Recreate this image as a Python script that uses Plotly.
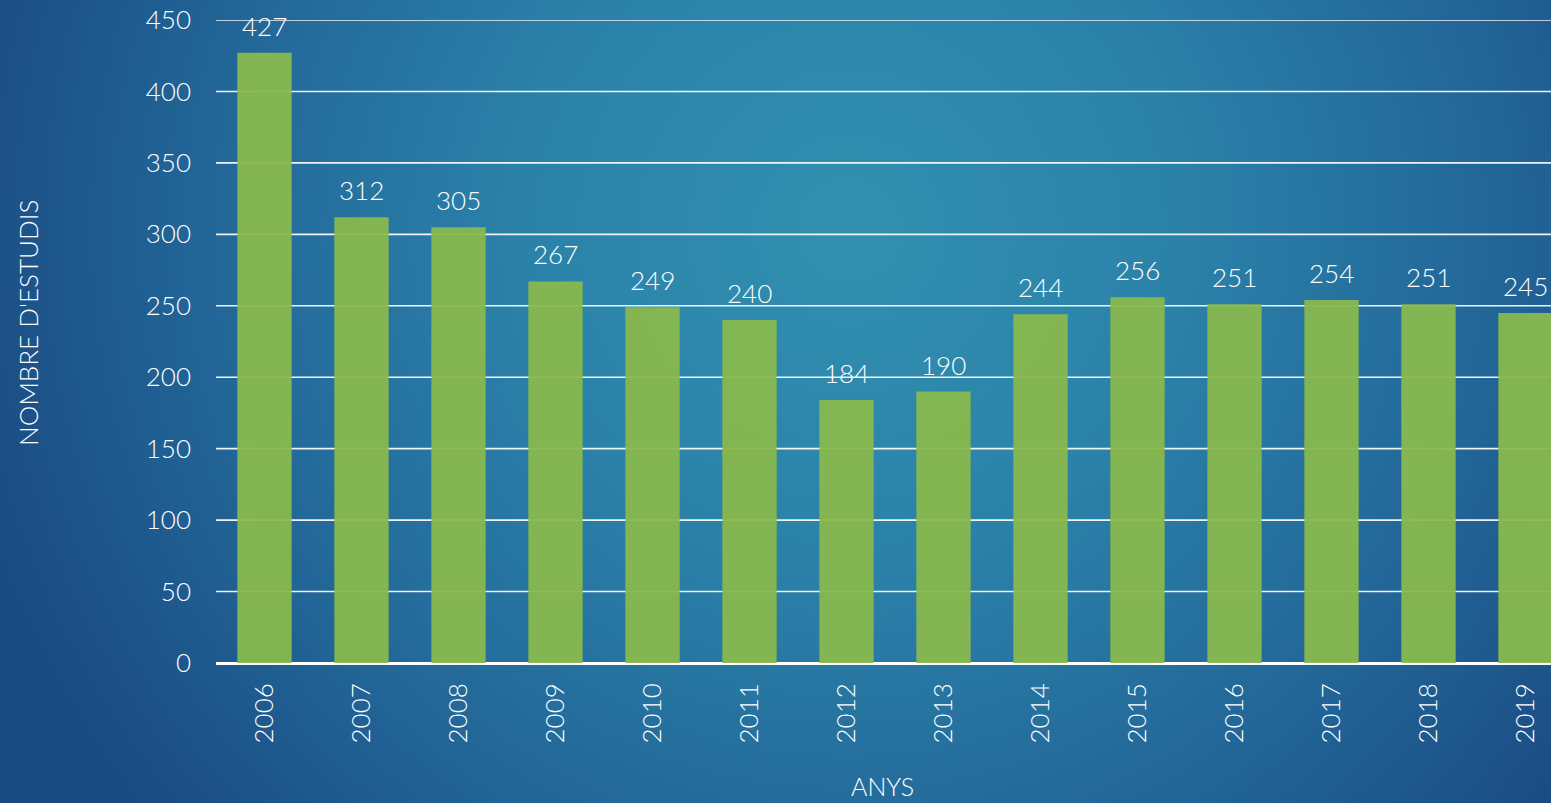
import base64
import plotly.graph_objects as go

years = ["2006", "2007", "2008", "2009", "2010", "2011", "2012",
         "2013", "2014", "2015", "2016", "2017", "2018", "2019"]
studies = [427, 312, 305, 267, 249, 240, 184, 190, 244, 256, 251, 254, 251, 245]
y_ticks = [0, 50, 100, 150, 200, 250, 300, 350, 400, 450]

W, H = 1551, 803
ML, MR, MT, MB = 216, 0, 20, 140
PW, PH = W - ML - MR, H - MT - MB

FONT = "Lato, 'Open Sans', sans-serif"
WEIGHT = 300

svg = f'''<svg xmlns="http://www.w3.org/2000/svg" width="{W}" height="{H}" viewBox="0 0 {W} {H}" preserveAspectRatio="none">
<defs><radialGradient id="g" gradientUnits="userSpaceOnUse" cx="850" cy="230" r="920">
<stop offset="0" stop-color="#3190b0"/>
<stop offset="0.35" stop-color="#2b82a9"/>
<stop offset="0.7" stop-color="#226698"/>
<stop offset="1" stop-color="#1a4a82"/>
</radialGradient></defs>
<rect x="0" y="0" width="{W}" height="{H}" fill="url(#g)"/>
</svg>'''
bg_uri = "data:image/svg+xml;base64," + base64.b64encode(svg.encode()).decode()

xi = list(range(len(years)))

fig = go.Figure()
fig.add_trace(go.Bar(
    x=xi, y=studies,
    marker=dict(color="rgb(137,186,78)", line=dict(width=0)),
    opacity=0.94,
    hovertext=years, hoverinfo="text+y",
))

annotations = []
for i, v in zip(xi, studies):
    annotations.append(dict(
        x=i, y=v, xref="x", yref="y", text=str(v), showarrow=False,
        yanchor="bottom", xanchor="center", yshift=9,
        font=dict(family=FONT, size=26, color="white", weight=WEIGHT),
    ))
annotations.append(dict(
    x=(28 - ML) / PW, y=(MT + PH - 323) / PH, xref="paper", yref="paper",
    text="NOMBRE D'ESTUDIS", showarrow=False, textangle=-90,
    xanchor="center", yanchor="middle",
    font=dict(family=FONT, size=26, color="white", weight=WEIGHT),
))
annotations.append(dict(
    x=(882 - ML) / PW, y=(MT + PH - 786) / PH, xref="paper", yref="paper",
    text="ANYS", showarrow=False, xanchor="center", yanchor="middle",
    font=dict(family=FONT, size=25, color="white", weight=WEIGHT),
))

# horizontal grid lines drawn as shapes from the tick values
shapes = []
for t in y_ticks[1:]:
    shapes.append(dict(
        type="line", xref="paper", yref="y", x0=0, x1=1, y0=t, y1=t,
        line=dict(color="rgba(255,255,255,0.92)", width=1.6), layer="below",
    ))

fig.update_layout(
    width=W, height=H, autosize=False,
    margin=dict(l=ML, r=MR, t=MT, b=MB, pad=0),
    paper_bgcolor="#1f5a8f",
    plot_bgcolor="rgba(0,0,0,0)",
    showlegend=False,
    bargap=0.44,
    annotations=annotations,
    shapes=shapes,
    images=[dict(
        source=bg_uri, xref="paper", yref="paper",
        x=-ML / PW, y=1 + MT / PH, sizex=W / PW, sizey=H / PH,
        xanchor="left", yanchor="top", sizing="stretch", layer="below",
    )],
    xaxis=dict(
        range=[-0.5, -0.5 + PW / 97.0],
        tickvals=xi, ticktext=years,
        tickangle=-90,
        tickfont=dict(family=FONT, size=26, color="white", weight=WEIGHT),
        showgrid=False, showline=False, zeroline=False, ticks="",
        ticklabelstandoff=14,
    ),
    yaxis=dict(
        range=[0, 450], tickvals=y_ticks,
        tickfont=dict(family=FONT, size=26, color="white", weight=WEIGHT),
        showgrid=False,
        zeroline=True, zerolinecolor="white", zerolinewidth=3,
        showline=False, ticks="", ticklabelstandoff=24,
    ),
)

fig.write_html("out.html", config={"displayModeBar": False})

with open("out.html", "r", encoding="utf-8") as f:
    html = f.read()
html = html.replace("<head>", "<head><style>html,body{margin:0;padding:0;overflow:hidden;}</style>", 1)
with open("out.html", "w", encoding="utf-8") as f:
    f.write(html)
